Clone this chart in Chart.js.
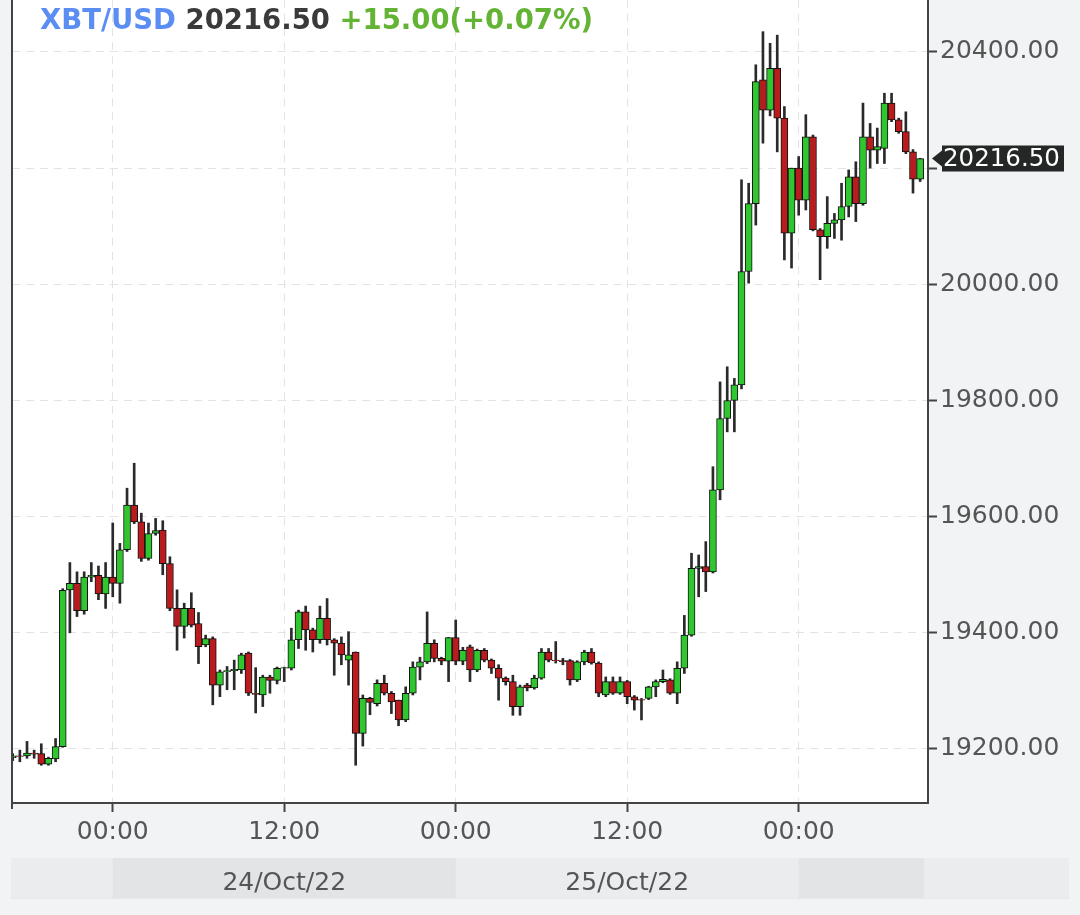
<!DOCTYPE html>
<html><head><meta charset="utf-8">
<script src="https://cdn.jsdelivr.net/npm/chart.js@4/dist/chart.umd.min.js"></script>
<style>
html,body{margin:0;padding:0;background:#f2f3f5;}
#wrap{position:relative;width:1080px;height:915px;overflow:hidden;}
canvas{display:block;}
#hdr{position:absolute;left:40px;top:4px;font:bold 27.5px "DejaVu Sans";line-height:30px;white-space:pre;}
</style></head><body>
<div id="wrap"><canvas id="c" width="1080" height="915"></canvas>
<div id="hdr"><span style="color:#5a8ef3">XBT/USD</span> <span style="color:#3a3a3a">20216.50</span> <span style="color:#63b434">+15.00(+0.07%)</span></div></div>
<script>
// 30-minute candles, first candle 23/Oct/22 17:00
const startLabel = '23/Oct/22 17:00';
const opens  = [19185,19188,19188,19193,19192,19174,19183,19204,19474,19485,19438,19496,19499,19467,19496,19485,19543,19620,19591,19528,19571,19577,19519,19442,19411,19442,19416,19379,19390,19310,19333,19335,19336,19365,19296,19293,19324,19318,19339,19339,19388,19436,19405,19388,19425,19388,19382,19353,19367,19227,19287,19278,19313,19296,19284,19250,19296,19341,19350,19382,19356,19351,19392,19351,19376,19336,19370,19353,19339,19322,19316,19273,19310,19305,19322,19367,19353,19352,19352,19319,19350,19367,19348,19293,19316,19296,19316,19290,19285,19287,19307,19316,19319,19296,19339,19396,19511,19514,19505,19646,19769,19800,19827,20022,20139,20352,20300,20372,20286,20088,20200,20145,20254,20094,20082,20105,20111,20134,20185,20139,20254,20231,20234,20312,20283,20263,20228,20181];
const highs  = [19192,19198,19213,19198,19209,19186,19218,19476,19521,19505,19505,19521,19515,19521,19589,19554,19649,19692,19606,19589,19597,19593,19531,19474,19451,19469,19435,19396,19393,19336,19342,19353,19365,19367,19340,19327,19327,19341,19341,19408,19439,19446,19408,19446,19459,19390,19393,19402,19367,19293,19289,19319,19327,19299,19284,19307,19350,19358,19436,19388,19358,19392,19422,19375,19379,19372,19373,19355,19345,19324,19327,19310,19313,19327,19373,19373,19385,19356,19354,19352,19370,19373,19350,19324,19324,19324,19318,19292,19287,19308,19319,19336,19321,19350,19430,19537,19534,19557,19686,19832,19858,19838,20180,20174,20378,20435,20415,20429,20306,20200,20220,20292,20257,20096,20151,20122,20174,20197,20211,20312,20277,20269,20329,20329,20286,20297,20232,20217];
const lows   = [19180,19178,19184,19184,19172,19172,19178,19203,19400,19428,19432,19488,19457,19442,19462,19451,19540,19588,19523,19525,19568,19500,19438,19370,19391,19410,19347,19376,19276,19290,19302,19302,19330,19292,19262,19273,19296,19312,19316,19336,19373,19370,19367,19382,19379,19327,19345,19310,19172,19205,19259,19274,19293,19261,19240,19247,19293,19319,19347,19350,19345,19316,19345,19345,19316,19333,19350,19330,19284,19310,19258,19258,19300,19303,19320,19350,19348,19345,19310,19316,19345,19346,19290,19290,19294,19294,19278,19267,19250,19285,19290,19314,19294,19278,19330,19394,19462,19471,19503,19629,19746,19746,19820,20002,20102,20243,20290,20228,20042,20028,20119,20128,20092,20008,20062,20079,20076,20116,20108,20136,20200,20208,20208,20280,20260,20225,20157,20177];
const closes = [19188,19187,19193,19191,19174,19184,19204,19473,19485,19438,19496,19499,19467,19496,19485,19543,19620,19591,19528,19571,19576,19519,19442,19411,19442,19413,19376,19390,19310,19333,19335,19337,19362,19296,19294,19324,19318,19339,19340,19388,19436,19405,19388,19425,19388,19382,19362,19362,19227,19287,19280,19313,19296,19281,19250,19296,19341,19350,19382,19356,19351,19392,19351,19370,19336,19370,19353,19339,19322,19316,19273,19307,19305,19322,19367,19353,19352,19350,19319,19350,19367,19348,19296,19316,19296,19316,19290,19284,19284,19307,19316,19320,19296,19339,19396,19511,19514,19505,19646,19769,19800,19827,20022,20139,20349,20300,20372,20286,20088,20200,20145,20254,20094,20082,20105,20111,20134,20185,20139,20254,20231,20237,20312,20283,20263,20228,20181,20216.5];

const xTickIdx    = [14, 38, 62, 86, 110];
const xTickLabels = ['00:00', '12:00', '00:00', '12:00', '00:00'];
const dayStartIdx = [14, 62, 110];
const dateTickIdx = [38, 86];
const dateLabels  = ['24/Oct/22', '25/Oct/22'];
const yTicks      = [19200, 19400, 19600, 19800, 20000, 20200, 20400];
const lastPrice   = 20216.50;

const GREEN = '#2fc62f', RED = '#b91c1e';
const bodies = opens.map((o, i) => ({x: i, y: [Math.min(o, closes[i]), Math.max(o, closes[i])]}));
const wicks  = highs.map((h, i) => ({x: i, y: [lows[i], h]}));
const bodyColors = opens.map((o, i) => closes[i] >= o ? GREEN : RED);

const FONT = {family: 'DejaVu Sans', size: 25};

const bgPlugin = {
  id: 'bg',
  beforeDraw(chart) {
    const {ctx, chartArea: a, width} = chart;
    const xs = chart.scales.x;
    ctx.save();
    ctx.fillStyle = '#f2f3f5';
    ctx.fillRect(0, 0, width, chart.height);
    ctx.fillStyle = '#ffffff';
    ctx.fillRect(a.left, a.top, a.right - a.left, a.bottom - a.top);
    const bandTop = a.bottom + 55, bandH = 40;
    ctx.fillStyle = '#ebecee';
    ctx.fillRect(a.left - 1, bandTop, width - a.left - 10, bandH);
    ctx.fillStyle = '#e3e4e6';
    const ends = [dayStartIdx[1], dayStartIdx[2], opens.length - 0.45];
    [0, 2].forEach(k => {
      const x1 = xs.getPixelForValue(dayStartIdx[k]);
      const x2 = xs.getPixelForValue(ends[k]);
      ctx.fillRect(x1, bandTop, x2 - x1, bandH);
    });
    ctx.fillStyle = '#e6e7e9';
    ctx.fillRect(a.left - 1, bandTop + bandH, width - a.left - 10, 1);
    ctx.restore();
  },
  afterDraw(chart) {
    const {ctx, chartArea: a} = chart;
    const ys = chart.scales.y;
    ctx.save();
    ctx.strokeStyle = '#444';
    ctx.lineWidth = 2;
    ctx.beginPath();
    ctx.moveTo(a.left, 0);
    ctx.lineTo(a.left, a.bottom + 6);
    ctx.stroke();
    const y = ys.getPixelForValue(lastPrice);
    const bx = a.right + 14, bw = 122, bh = 26;
    ctx.fillStyle = 'rgba(22,22,22,0.93)';
    ctx.beginPath();
    ctx.moveTo(a.right + 4, y);
    ctx.lineTo(bx, y - 8);
    ctx.lineTo(bx, y - bh / 2);
    ctx.lineTo(bx + bw, y - bh / 2);
    ctx.lineTo(bx + bw, y + bh / 2);
    ctx.lineTo(bx, y + bh / 2);
    ctx.lineTo(bx, y + 8);
    ctx.closePath();
    ctx.fill();
    ctx.fillStyle = '#ffffff';
    ctx.font = '24.5px "DejaVu Sans"';
    ctx.textBaseline = 'middle';
    ctx.textAlign = 'left';
    ctx.fillText(lastPrice.toFixed(2), bx + 1, y + 1);
    ctx.restore();
  }
};

function zeroPad(s) { s.paddingTop = 0; s.paddingBottom = 0; s.paddingLeft = 0; s.paddingRight = 0; }

new Chart(document.getElementById('c'), {
  type: 'bar',
  data: {
    datasets: [
      {label: 'body', data: bodies, backgroundColor: bodyColors, borderColor: '#111', borderWidth: 1,
       borderSkipped: false, barThickness: 7, grouped: false, order: 0, clip: 0},
      {label: 'wick', data: wicks, backgroundColor: '#2a2a2a', borderWidth: 0,
       barThickness: 2, grouped: false, order: 1, clip: 0}
    ]
  },
  options: {
    responsive: false,
    devicePixelRatio: 1,
    animation: false,
    events: [],
    layout: {padding: {left: 12, right: 0, top: 0, bottom: 0}},
    plugins: {legend: {display: false}, tooltip: {enabled: false}, title: {display: false}},
    scales: {
      x: {
        type: 'linear', position: 'bottom', min: -0.1, max: 128.1, offset: false,
        afterBuildTicks: s => { s.ticks = xTickIdx.map(v => ({value: v})); },
        afterFit: s => { s.height = 55; zeroPad(s); },
        ticks: {callback: (v, i) => xTickLabels[i], font: FONT, color: '#555', padding: 5,
                maxRotation: 0, autoSkip: false},
        grid: {offset: false, color: '#e3e3e3', lineWidth: 1, tickLength: 9, tickColor: '#444', tickWidth: 2, tickBorderDash: []},
        border: {display: true, color: '#444', width: 2, dash: [8, 6]}
      },
      xDate: {
        type: 'linear', position: 'bottom', min: -0.1, max: 128.1, offset: false,
        afterBuildTicks: s => { s.ticks = dateTickIdx.map(v => ({value: v})); },
        afterFit: s => { s.height = 57; zeroPad(s); },
        ticks: {callback: (v, i) => dateLabels[i], font: FONT, color: '#555', padding: 10,
                maxRotation: 0, autoSkip: false},
        grid: {display: false, drawTicks: false, offset: false},
        border: {display: false}
      },
      y: {
        type: 'linear', position: 'right', min: 19107, max: 20489.5,
        afterBuildTicks: s => { s.ticks = yTicks.map(v => ({value: v})); },
        afterFit: s => { s.width = 152; zeroPad(s); },
        ticks: {callback: v => Number(v).toFixed(2), font: FONT, padding: 3,
                // label hidden behind the last-price marker in the original
                color: c => (c.tick && Math.abs(c.tick.value - lastPrice) < 40) ? 'rgba(0,0,0,0)' : '#555'},
        grid: {color: '#e3e3e3', lineWidth: 1, tickLength: 9, tickColor: '#444', tickWidth: 2, tickBorderDash: []},
        border: {display: true, color: '#444', width: 2, dash: [8, 6]}
      }
    }
  },
  plugins: [bgPlugin]
});
</script>
</body></html>
